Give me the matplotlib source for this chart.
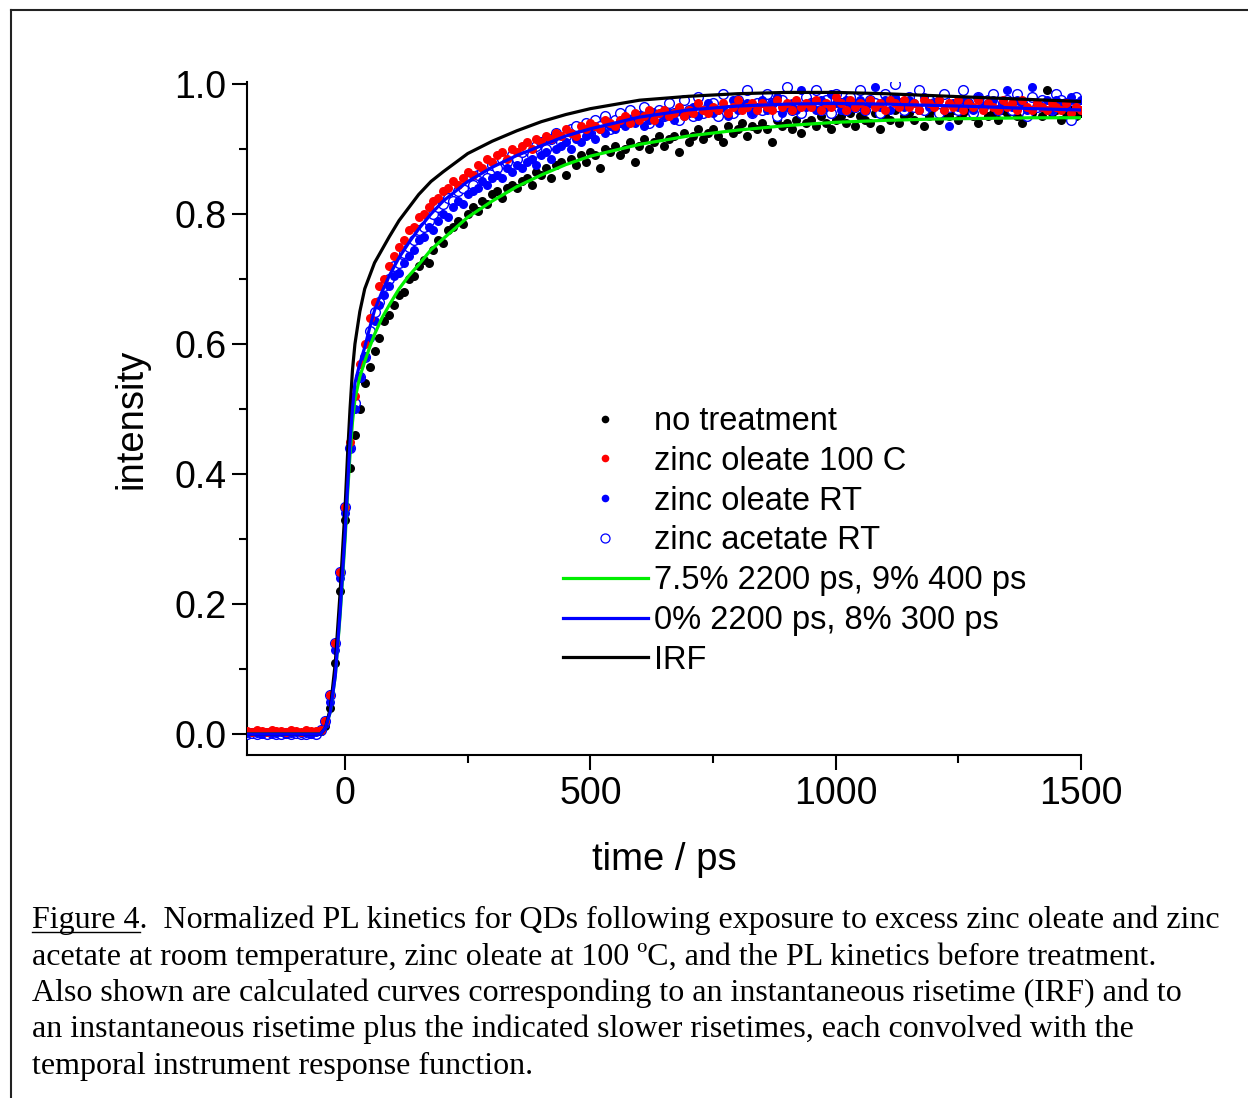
import numpy as np
import matplotlib
matplotlib.use("Agg")
import matplotlib.pyplot as plt
from matplotlib.lines import Line2D

plt.rcParams['font.family'] = ['Liberation Sans', 'DejaVu Sans']

# measured kinetics, 10 ps bins from -200 to 1500 ps
time = np.arange(-200, 1501, 10)

no_treatment = [
    0.003, 0.002, 0.004, 0.001, 0.003, 0.002, 0.003, 0.004, 0.002, 0.001, 0.003, 0.002, 0.004, 0.003, 0.002,
    0.005, 0.012, 0.04, 0.11, 0.22, 0.33, 0.41, 0.46, 0.50, 0.54,
    0.565, 0.59, 0.61, 0.635, 0.645, 0.66, 0.675, 0.68, 0.70, 0.705,
    0.72, 0.73, 0.725, 0.745, 0.76, 0.755, 0.775, 0.78, 0.79, 0.785,
    0.80, 0.81, 0.805, 0.82, 0.815, 0.83, 0.835, 0.825, 0.84, 0.845,
    0.84, 0.85, 0.855, 0.845, 0.865, 0.86, 0.87, 0.855, 0.875, 0.88,
    0.86, 0.885, 0.875, 0.89, 0.88, 0.895, 0.89, 0.87, 0.90, 0.895,
    0.905, 0.89, 0.90, 0.91, 0.88, 0.905, 0.915, 0.90, 0.91, 0.92,
    0.905, 0.915, 0.92, 0.895, 0.925, 0.91, 0.92, 0.93, 0.915, 0.925,
    0.93, 0.92, 0.91, 0.935, 0.925, 0.93, 0.94, 0.92, 0.935, 0.93,
    0.94, 0.93, 0.91, 0.945, 0.935, 0.94, 0.93, 0.945, 0.925, 0.94,
    0.945, 0.935, 0.95, 0.94, 0.93, 0.945, 0.95, 0.94, 0.955, 0.935,
    0.95, 0.945, 0.94, 0.955, 0.93, 0.95, 0.945, 0.96, 0.94, 0.95,
    0.955, 0.945, 0.96, 0.935, 0.95, 0.96, 0.945, 0.955, 0.95, 0.96,
    0.945, 0.955, 0.96, 0.95, 0.94, 0.965, 0.95, 0.955, 0.945, 0.96,
    0.955, 0.97, 0.95, 0.94, 0.96, 0.955, 0.965, 0.95, 0.99, 0.955,
    0.96, 0.945, 0.955, 0.96, 0.95, 0.955]

zn_oleate_100C = [
    0.005, 0.004, 0.006, 0.005, 0.004, 0.006, 0.005, 0.005, 0.004, 0.006, 0.005, 0.004, 0.006, 0.005, 0.005,
    0.007, 0.02, 0.06, 0.14, 0.25, 0.35, 0.45, 0.52, 0.57, 0.60,
    0.64, 0.665, 0.69, 0.70, 0.72, 0.735, 0.75, 0.76, 0.775, 0.78,
    0.795, 0.80, 0.81, 0.82, 0.825, 0.835, 0.84, 0.85, 0.845, 0.855,
    0.865, 0.86, 0.875, 0.87, 0.885, 0.88, 0.89, 0.895, 0.885, 0.90,
    0.895, 0.905, 0.91, 0.90, 0.915, 0.91, 0.92, 0.915, 0.925, 0.92,
    0.93, 0.925, 0.92, 0.935, 0.93, 0.94, 0.935, 0.93, 0.945, 0.94,
    0.935, 0.945, 0.95, 0.94, 0.955, 0.945, 0.95, 0.96, 0.945, 0.955,
    0.96, 0.95, 0.955, 0.965, 0.95, 0.96, 0.955, 0.97, 0.96, 0.955,
    0.965, 0.96, 0.97, 0.955, 0.965, 0.975, 0.96, 0.965, 0.97, 0.96,
    0.97, 0.965, 0.96, 0.975, 0.965, 0.97, 0.96, 0.975, 0.965, 0.97,
    0.965, 0.975, 0.96, 0.97, 0.965, 0.98, 0.97, 0.96, 0.975, 0.965,
    0.97, 0.96, 0.975, 0.965, 0.97, 0.96, 0.975, 0.97, 0.965, 0.975,
    0.965, 0.97, 0.96, 0.975, 0.97, 0.965, 0.975, 0.96, 0.97, 0.965,
    0.975, 0.96, 0.97, 0.965, 0.975, 0.96, 0.97, 0.965, 0.96, 0.975,
    0.965, 0.97, 0.96, 0.975, 0.965, 0.96, 0.97, 0.965, 0.96, 0.97,
    0.965, 0.96, 0.97, 0.955, 0.965, 0.96]

zn_oleate_RT = [
    0.002, 0.003, 0.002, 0.001, 0.003, 0.002, 0.002, 0.003, 0.001, 0.002, 0.003, 0.002, 0.002, 0.001, 0.003,
    0.005, 0.015, 0.05, 0.13, 0.24, 0.34, 0.44, 0.50, 0.55, 0.58,
    0.61, 0.635, 0.66, 0.675, 0.69, 0.705, 0.71, 0.725, 0.735, 0.745,
    0.76, 0.765, 0.78, 0.775, 0.79, 0.80, 0.795, 0.81, 0.82, 0.815,
    0.83, 0.835, 0.84, 0.85, 0.845, 0.855, 0.86, 0.855, 0.87, 0.865,
    0.875, 0.87, 0.88, 0.885, 0.875, 0.89, 0.895, 0.885, 0.90, 0.905,
    0.91, 0.90, 0.915, 0.91, 0.92, 0.925, 0.915, 0.93, 0.925, 0.935,
    0.93, 0.94, 0.935, 0.945, 0.94, 0.95, 0.935, 0.945, 0.955, 0.94,
    0.95, 0.955, 0.945, 0.96, 0.95, 0.955, 0.965, 0.95, 0.96, 0.97,
    0.955, 0.96, 0.965, 0.95, 0.975, 0.96, 0.965, 0.97, 0.955, 0.965,
    0.975, 0.96, 0.97, 0.98, 0.955, 0.965, 0.97, 0.96, 0.99, 0.965,
    0.97, 0.96, 0.975, 0.965, 0.985, 0.97, 0.96, 0.975, 0.965, 0.97,
    0.975, 0.96, 0.97, 0.995, 0.965, 0.975, 0.96, 0.98, 0.97, 0.965,
    0.975, 0.97, 0.96, 0.98, 0.965, 0.97, 0.975, 0.96, 0.935, 0.97,
    0.965, 0.975, 0.97, 0.96, 0.98, 0.965, 0.97, 0.975, 0.96, 0.97,
    0.99, 0.965, 0.975, 0.97, 0.96, 0.995, 0.97, 0.965, 0.975, 0.96,
    0.975, 0.97, 0.965, 0.98, 0.97, 0.975]

zn_acetate_RT = [
    0.001, 0.002, 0.0, 0.002, 0.001, 0.002, 0.001, 0.0, 0.002, 0.001, 0.002, 0.0, 0.001, 0.002, 0.001,
    0.006, 0.02, 0.06, 0.14, 0.25, 0.35, 0.44, 0.51, 0.55, 0.58,
    0.62, 0.65, 0.665, 0.69, 0.70, 0.72, 0.725, 0.74, 0.75, 0.76,
    0.775, 0.78, 0.79, 0.80, 0.81, 0.815, 0.825, 0.82, 0.835, 0.84,
    0.85, 0.845, 0.86, 0.865, 0.855, 0.875, 0.87, 0.885, 0.88, 0.89,
    0.885, 0.895, 0.90, 0.89, 0.905, 0.91, 0.90, 0.915, 0.925, 0.91,
    0.92, 0.93, 0.935, 0.92, 0.94, 0.925, 0.945, 0.935, 0.95, 0.93,
    0.945, 0.955, 0.94, 0.96, 0.945, 0.95, 0.965, 0.94, 0.955, 0.96,
    0.95, 0.97, 0.955, 0.945, 0.975, 0.96, 0.95, 0.98, 0.955, 0.965,
    0.97, 0.95, 0.985, 0.96, 0.955, 0.975, 0.965, 0.99, 0.955, 0.97,
    0.96, 0.985, 0.97, 0.95, 0.975, 0.995, 0.96, 0.97, 0.955, 0.98,
    0.97, 0.99, 0.96, 0.975, 0.955, 0.985, 0.97, 0.96, 0.98, 0.965,
    0.99, 0.96, 0.975, 0.97, 0.955, 0.985, 0.965, 1.0, 0.97, 0.96,
    0.98, 0.965, 0.99, 0.96, 0.975, 0.97, 0.955, 0.985, 0.965, 0.975,
    0.96, 0.99, 0.97, 0.955, 0.98, 0.965, 0.975, 0.985, 0.96, 0.97,
    0.975, 0.96, 0.985, 0.97, 0.95, 0.98, 0.965, 0.975, 0.97, 0.96,
    0.985, 0.975, 0.97, 0.945, 0.98, 0.965]

# calculated curves
fit_time = [-200, -50, -40, -30, -20, -10, 0, 5, 10, 15, 20, 30, 40, 50, 60, 75, 90, 110, 130, 150,
            175, 200, 250, 300, 350, 400, 450, 500, 600, 700, 800, 900, 1000, 1100, 1200, 1300, 1400, 1500]
fit_green = [0.0, 0.0, 0.01, 0.035, 0.09, 0.185, 0.30, 0.37, 0.43, 0.48, 0.515, 0.55, 0.573, 0.595, 0.615,
             0.64, 0.66, 0.685, 0.705, 0.722, 0.745, 0.762, 0.795, 0.82, 0.842, 0.86, 0.876, 0.889, 0.907,
             0.92, 0.929, 0.936, 0.941, 0.944, 0.946, 0.947, 0.948, 0.948]
fit_blue = [0.0, 0.0, 0.01, 0.035, 0.09, 0.19, 0.31, 0.38, 0.45, 0.50, 0.54, 0.57, 0.595, 0.625, 0.652,
            0.68, 0.705, 0.733, 0.756, 0.777, 0.80, 0.82, 0.85, 0.872, 0.89, 0.905, 0.92, 0.931, 0.949,
            0.96, 0.966, 0.969, 0.97, 0.969, 0.967, 0.965, 0.962, 0.96]
irf = [0.0, 0.0, 0.01, 0.04, 0.11, 0.22, 0.35, 0.43, 0.50, 0.56, 0.60, 0.65, 0.685, 0.705, 0.725,
       0.745, 0.765, 0.79, 0.81, 0.83, 0.85, 0.865, 0.893, 0.912, 0.928, 0.942, 0.953, 0.962, 0.975,
       0.981, 0.985, 0.987, 0.987, 0.985, 0.982, 0.979, 0.976, 0.973]

W, H = 1248, 1098
fig = plt.figure(figsize=(W / 100, H / 100), dpi=100)
ax = fig.add_axes([247 / W, 1 - 755 / H, (1081 - 247) / W, (755 - 82) / H])

ms = 6.5
ax.plot(time, no_treatment, 'o', color='black', ms=ms, mew=0, zorder=2)
ax.plot(time, zn_acetate_RT, 'o', mfc='white', mec='blue', ms=ms + 0.5, mew=1.0, zorder=3)
ax.plot(time, zn_oleate_RT, 'o', color='blue', ms=ms, mew=0, zorder=4)
ax.plot(time, zn_oleate_100C, 'o', color='red', ms=ms, mew=0, zorder=5)

ax.plot(fit_time, fit_green, color='#00ee00', lw=2.3, zorder=6)
ax.plot(fit_time, fit_blue, color='blue', lw=2.3, zorder=7)
ax.plot(fit_time, irf, color='black', lw=2.3, zorder=6)

ax.set_xlim(-200, 1500)
ax.set_ylim(-0.032, 1.003)
ax.set_xticks([0, 500, 1000, 1500])
ax.set_xticks([250, 750, 1250], minor=True)
ax.set_yticks([0.0, 0.2, 0.4, 0.6, 0.8, 1.0])
ax.set_yticklabels(['0.0', '0.2', '0.4', '0.6', '0.8', '1.0'])
ax.set_yticks([0.1, 0.3, 0.5, 0.7, 0.9], minor=True)
for s in ['top', 'right']:
    ax.spines[s].set_visible(False)
for s in ['left', 'bottom']:
    ax.spines[s].set_linewidth(1.5)
ax.tick_params(which='major', length=11, width=1.5, labelsize=27, pad=4)
ax.tick_params(which='minor', length=6, width=1.5)
ax.set_xlabel('time / ps', fontsize=27.5, labelpad=22)
ax.set_ylabel('intensity', fontsize=27.5, labelpad=18)

handles = [
    Line2D([], [], ls='none', marker='o', color='black', ms=5.5, mew=0),
    Line2D([], [], ls='none', marker='o', color='red', ms=5.5, mew=0),
    Line2D([], [], ls='none', marker='o', color='blue', ms=5.5, mew=0),
    Line2D([], [], ls='none', marker='o', mfc='white', mec='blue', ms=6.5, mew=0.9),
    Line2D([], [], color='#00ee00', lw=2.3),
    Line2D([], [], color='blue', lw=2.3),
    Line2D([], [], color='black', lw=2.3),
]
labels = ['no treatment', 'zinc oleate 100 C', 'zinc oleate RT', 'zinc acetate RT',
          '7.5% 2200 ps, 9% 400 ps', '0% 2200 ps, 8% 300 ps', 'IRF']
fig.legend(handles, labels, loc='upper left', bbox_to_anchor=(563 / W, 1 - 406 / H),
           frameon=False, fontsize=23.5, handlelength=2.6, handletextpad=0.2,
           labelspacing=0.27, borderpad=0, borderaxespad=0)

# page frame
fig.add_artist(Line2D([11 / W, 11 / W], [0, 1 - 10 / H], color='#222222', lw=1.5))
fig.add_artist(Line2D([11 / W, 1], [1 - 10 / H, 1 - 10 / H], color='#222222', lw=1.5))

# caption
caption = [
    'Figure 4.  Normalized PL kinetics for QDs following exposure to excess zinc oleate and zinc',
    'acetate at room temperature, zinc oleate at 100 \u00baC, and the PL kinetics before treatment.',
    'Also shown are calculated curves corresponding to an instantaneous risetime (IRF) and to',
    'an instantaneous risetime plus the indicated slower risetimes, each convolved with the',
    'temporal instrument response function.',
]
cap_font = dict(family=['Liberation Serif', 'DejaVu Serif'], fontsize=23)
for i, line in enumerate(caption):
    fig.text(32 / W, 1 - (928 + 36.5 * i) / H, line, va='baseline', ha='left', **cap_font)
fig.canvas.draw()
r = fig.canvas.get_renderer()
tmp = fig.text(32 / W, 1 - 928 / H, 'Figure 4', va='baseline', ha='left', **cap_font)
bb = tmp.get_window_extent(r)
tmp.remove()
fig.add_artist(Line2D([bb.x0 / W, bb.x1 / W], [1 - 932 / H, 1 - 932 / H], color='black', lw=1.0))

fig.savefig('out.png', dpi=100)
